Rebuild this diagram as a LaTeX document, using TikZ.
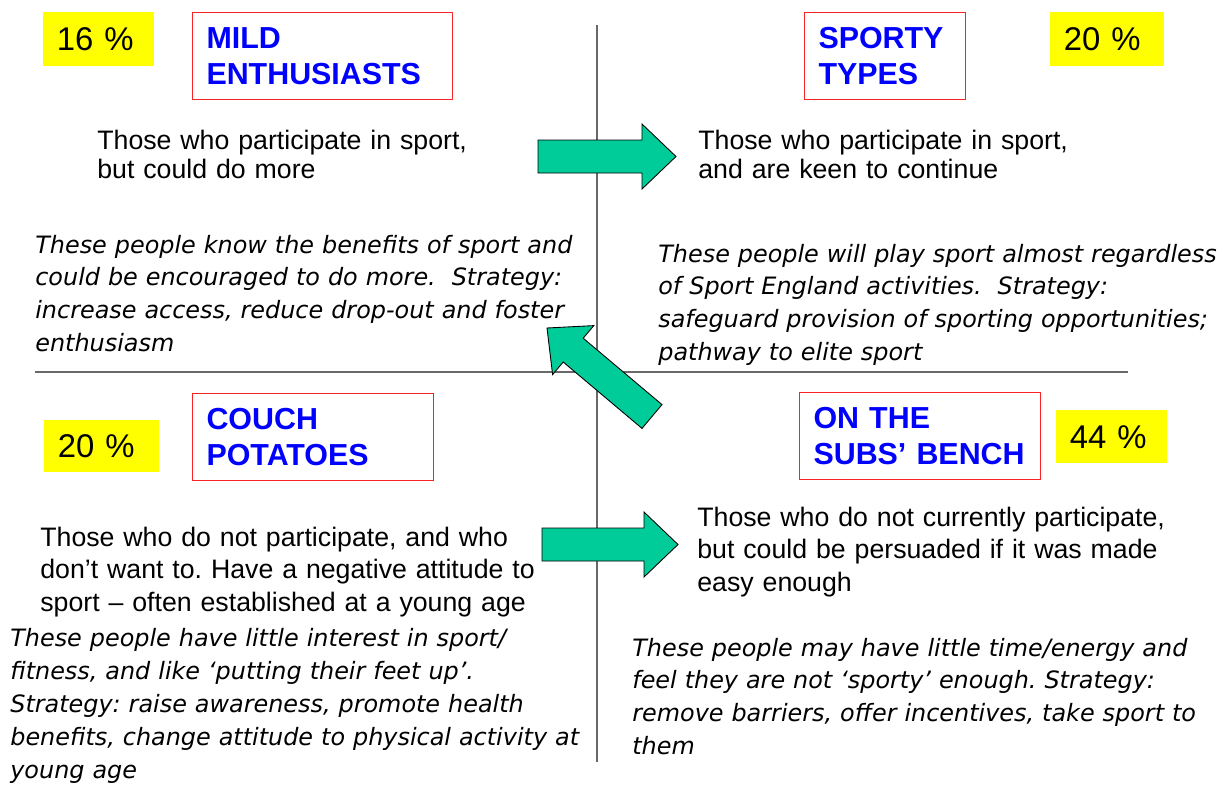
\documentclass[tikz,border=0pt]{standalone}
\usepackage{fontspec}
\setmainfont{Liberation Sans}
\newfontfamily\notefont{DejaVu Sans}
\usepackage{xcolor}
\usepackage{tikz}
\frenchspacing
\definecolor{segblue}{RGB}{0,0,255}
\definecolor{segred}{RGB}{250,35,35}
\definecolor{pctyellow}{RGB}{255,255,0}
\definecolor{arrowgreen}{RGB}{0,204,153}
\definecolor{axisgrey}{RGB}{105,105,105}
\tikzset{
	segtext/.style = {align=left, inner sep=0pt, anchor=base west, text width=12cm},
	desc/.style = {segtext, font=\fontsize{15.2}{17}\selectfont},
	desclow/.style = {segtext, font=\fontsize{15.2}{18.7}\selectfont},
	note/.style = {segtext, font=\notefont\itshape\fontsize{13.6}{18.7}\selectfont},
	segment/.style = {draw=segred, line width=0.6pt, anchor=north west, align=left, inner xsep=0.28cm, inner ysep=0pt, minimum height=1.74cm, text=segblue, font=\bfseries\fontsize{17.3}{20.4}\selectfont},
	share/.style = {fill=pctyellow, anchor=north west, align=left, inner xsep=0.27cm, inner ysep=0pt, font=\fontsize{18.7}{22}\selectfont},
	blockarrow/.style = {draw=black, line width=0.5pt, fill=arrowgreen, line join=miter},
	axis/.style = {draw=axisgrey, line width=0.9pt},
}

\begin{document}
\begin{tikzpicture}[x=0.02cm, y=-0.02cm]
	\useasboundingbox (0,0) rectangle (1217,785);
	
	% quadrant axes
	\coordinate (vtop) at (597,25);
	\coordinate (vbot) at (597,762);
	\coordinate (hleft) at (35,372);
	\coordinate (hright) at (1128,372);
	\draw[axis] (vtop) -- (vbot);
	\draw[axis] (hleft) -- (hright);
	
	% shares
	\node[share, text width=1.68cm, minimum height=1.08cm] (p16) at (43,12) {16 \%};
	\node[share, text width=1.74cm, minimum height=1.08cm] (p20a) at (1050,12) {20 \%};
	\node[share, text width=1.76cm, minimum height=1.04cm] (p20b) at (44,420) {20 \%};
	\node[share, text width=1.68cm, minimum height=1.06cm] (p44) at (1056,410) {44 \%};
	
	% segments
	\node[segment, text width=4.64cm] (mild) at (192,12) {MILD\\ENTHUSIASTS};
	\node[segment, text width=2.66cm] (sporty) at (804,12) {SPORTY\\TYPES};
	\node[segment, text width=4.26cm] (couch) at (192,393) {COUCH\\POTATOES};
	\node[segment, text width=4.26cm] (subs) at (799,392) {ON THE\\SUBS’ BENCH};
	
	% who they are
	\node[desc] (mildwho) at (97,149) {Those who participate in sport,\\but could do more};
	\node[desc] (sportywho) at (698,149) {Those who participate in sport,\\and are keen to continue};
	\node[desclow] (couchwho) at (40,546) {Those who do not participate, and who\\don’t want to. Have a negative attitude to\\sport – often established at a young age};
	\node[desclow] (subswho) at (697,526) {Those who do not currently participate,\\but could be persuaded if it was made\\easy enough};
	
	% strategies
	\node[note] (mildnote) at (35,253) {These people know the benefits of sport and\\could be encouraged to do more.~~Strategy:\\increase access, reduce drop-out and foster\\enthusiasm};
	\node[note] (sportynote) at (658,262) {These people will play sport almost regardless\\of Sport England activities.~~Strategy:\\safeguard provision of sporting opportunities;\\pathway to elite sport};
	\node[note, font=\notefont\itshape\fontsize{13.6}{18.8}\selectfont] (couchnote) at (10,646) {These people have little interest in sport/\\fitness, and like ‘putting their feet up’.\\Strategy: raise awareness, promote health\\benefits, change attitude to physical activity at\\young age};
	\node[note] (subsnote) at (632,656) {These people may have little time/energy and\\feel they are not ‘sporty’ enough. Strategy:\\remove barriers, offer incentives, take sport to\\them};
	
	% moves between segments
	\draw[blockarrow] (538,140) -- (642,140) -- (642,124) -- (676,156.5) -- (642,189) -- (642,173) -- (538,173) -- cycle;
	\draw[blockarrow] (542,528) -- (644,528) -- (644,512) -- (678,544.5) -- (644,577) -- (644,561) -- (542,561) -- cycle;
	\draw[blockarrow] (662,404.6) -- (583.2,338.2) -- (593.8,325.6) -- (547,328) -- (552.6,374.6) -- (563.2,362) -- (642,428.4) -- cycle;
\end{tikzpicture}
\end{document}
